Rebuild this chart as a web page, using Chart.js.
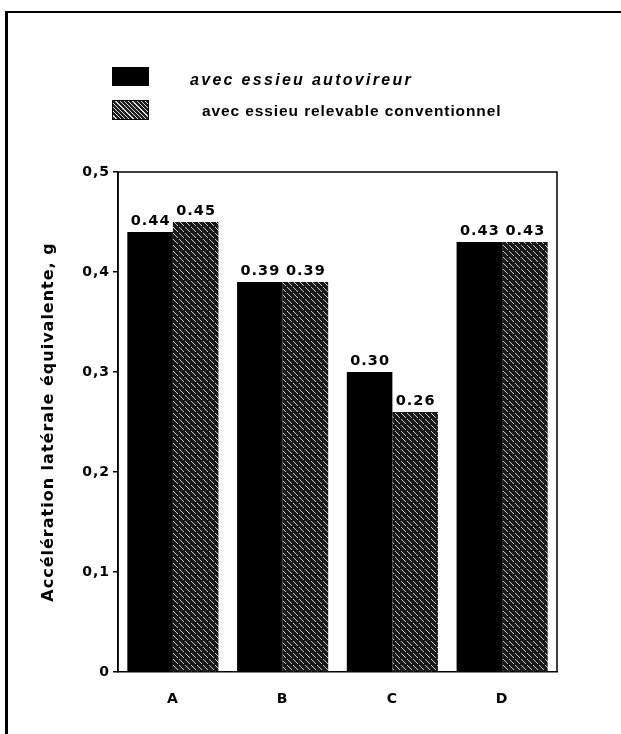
<!DOCTYPE html>
<html>
<head>
<meta charset="utf-8">
<script src="https://cdn.jsdelivr.net/npm/chart.js@4/dist/chart.umd.min.js"></script>
<style>
  html, body { margin: 0; padding: 0; background: #fff; }
  #wrap { position: relative; width: 621px; height: 734px; overflow: hidden; background: #fff; }
  #frame { position: absolute; left: 5px; top: 11px; width: 640px; height: 760px;
           border-left: 3px solid #000; border-top: 2px solid #000; box-sizing: border-box; }
  canvas { position: absolute; left: 0; top: 0; }
  .lbox { position: absolute; left: 112px; width: 37px; }
  .ltxt { position: absolute; font-family: "Liberation Sans", Arial, sans-serif; font-weight: bold;
          line-height: 1; color: #000; white-space: nowrap; }
</style>
</head>
<body>
<div id="wrap">
  <div id="frame"></div>
  <canvas id="c" width="621" height="734"></canvas>
  <div class="lbox" style="top:67px;height:19px;background:#000;"></div>
  <div class="ltxt" id="lt1" style="left:190px;top:72px;font-size:16px;font-style:italic;letter-spacing:2.3px;"></div>
  <div class="lbox" style="top:100px;height:20px;background:repeating-linear-gradient(45deg,#1e1e1e 0px,#1e1e1e 2px,#d8d8d8 2px,#d8d8d8 3px);border:1px solid #000;box-sizing:border-box;"></div>
  <div class="ltxt" id="lt2" style="left:202px;top:103px;font-size:15.5px;letter-spacing:0.9px;"></div>
</div>
<script>
// ---- data ----
const categories = ['A', 'B', 'C', 'D'];
const seriesNames = ['avec essieu autovireur', 'avec essieu relevable conventionnel'];
const autovireur = [0.44, 0.39, 0.30, 0.43];
const relevable = [0.45, 0.39, 0.26, 0.43];
const yTickLabels = ['0', '0,1', '0,2', '0,3', '0,4', '0,5'];
const yTitle = 'Accélération latérale équivalente, g';

document.getElementById('lt1').textContent = seriesNames[0];
document.getElementById('lt2').textContent = seriesNames[1];

// hatched pattern for second series
function makePattern() {
  const pc = document.createElement('canvas');
  pc.width = 6; pc.height = 6;
  const p = pc.getContext('2d');
  p.fillStyle = '#181818';
  p.fillRect(0, 0, 6, 6);
  p.fillStyle = '#c8c8c8';
  for (let i = 0; i < 6; i++) { if (i !== 4) p.fillRect(i, i, 1, 1); }
  return p.createPattern(pc, 'repeat');
}

const spacingPlugin = {
  id: 'spacing',
  beforeUpdate(chart) { chart.ctx.letterSpacing = '1px'; },
  beforeDraw(chart) { chart.ctx.letterSpacing = '1px'; }
};

const frameAndLabels = {
  id: 'frameAndLabels',
  afterDatasetsDraw(chart) {
    const ctx = chart.ctx;
    const a = chart.chartArea;
    ctx.save();
    ctx.strokeStyle = '#000';
    ctx.lineWidth = 1.5;
    ctx.beginPath();
    ctx.moveTo(a.left, a.bottom);
    ctx.lineTo(a.left, a.top);
    ctx.lineTo(a.right, a.top);
    ctx.lineTo(a.right, a.bottom);
    ctx.stroke();
    ctx.fillStyle = '#000';
    ctx.font = 'bold 14.5px "DejaVu Sans", sans-serif';
    ctx.letterSpacing = '1px';
    ctx.textAlign = 'center';
    ctx.textBaseline = 'bottom';
    chart.data.datasets.forEach((ds, di) => {
      const meta = chart.getDatasetMeta(di);
      meta.data.forEach((el, i) => {
        ctx.fillText(ds.data[i].toFixed(2), el.x + 0.5, el.y - 4);
      });
    });
    ctx.restore();
  }
};

new Chart(document.getElementById('c'), {
  type: 'bar',
  data: {
    labels: categories,
    datasets: [
      { label: seriesNames[0], data: autovireur, backgroundColor: '#000', borderWidth: 0 },
      { label: seriesNames[1], data: relevable, backgroundColor: makePattern(), borderWidth: 0 }
    ]
  },
  options: {
    responsive: false,
    animation: false,
    events: [],
    layout: { padding: { left: 0, right: 64, top: 172, bottom: 0 } },
    datasets: { bar: { categoryPercentage: 0.83, barPercentage: 1.0 } },
    plugins: { legend: { display: false }, tooltip: { enabled: false }, title: { display: false } },
    scales: {
      x: {
        afterFit(s) { s.height = 62; },
        grid: { display: false },
        border: { display: true, color: '#000', width: 1.5 },
        ticks: { color: '#000', padding: 11, font: { family: '"DejaVu Sans", sans-serif', size: 14, weight: 'bold' } }
      },
      y: {
        min: 0, max: 0.5,
        afterFit(s) { s.width = 118; },
        grid: { display: true, drawOnChartArea: false, drawTicks: true, tickLength: 5, color: '#000', lineWidth: 1.5 },
        border: { display: true, color: '#000', width: 1.5 },
        ticks: {
          stepSize: 0.1, color: '#000', padding: 3,
          font: { family: '"DejaVu Sans", sans-serif', size: 14, weight: 'bold' },
          callback: (v, i) => yTickLabels[i]
        },
        title: {
          display: true, text: yTitle, color: '#000',
          padding: { top: 39, bottom: 0 },
          font: { family: '"DejaVu Sans", sans-serif', size: 16, weight: 'bold' }
        }
      }
    }
  },
  plugins: [spacingPlugin, frameAndLabels]
});
</script>
</body>
</html>
